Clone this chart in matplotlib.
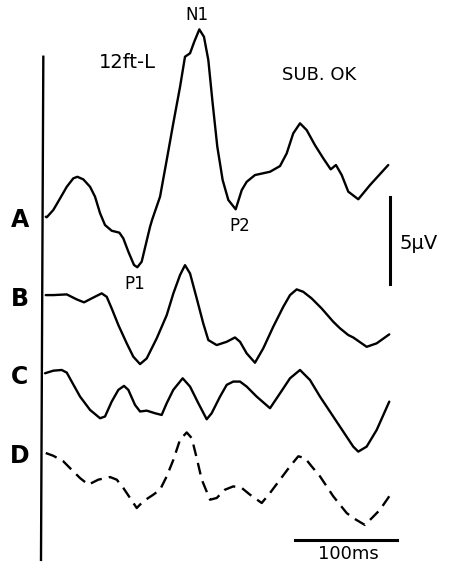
import numpy as np
import matplotlib
matplotlib.use("Agg")
import matplotlib.pyplot as plt

# latency (ms) and amplitude (uV, negative drawn upward) for each averaged response
t_a = [0.7, 1.7, 8.2, 14.9, 21.5, 28.0, 32.0, 37.9, 44.6, 49.5, 54.5, 59.4, 66.0, 73.6,
       77.5, 82.5, 88.1, 91.4, 95.7, 104.0, 106.2, 113.9, 120.5, 127.0, 133.7, 138.6, 143.6,
       147.8, 152.8, 157.4, 161.7, 166.0, 170.6, 175.9, 181.5, 188.8, 194.8, 199.7, 207.9,
       222.8, 232.7, 239.3, 245.8, 252.5, 259.1, 267.3, 275.5, 282.9, 288.1, 293.8, 300.3,
       310.2, 321.8, 339.9]
v_a = [0.0, 0.03, -0.39, -1.06, -1.73, -2.22, -2.31, -2.16, -1.73, -1.16, -0.2, 0.48, 0.81,
       0.92, 1.25, 2.02, 2.79, 2.92, 2.6, 0.58, 0.15, -1.16, -3.28, -5.4, -7.51, -9.25, -9.45,
       -10.12, -10.83, -10.4, -9.06, -6.55, -4.05, -2.12, -0.97, -0.43, -1.54, -2.02, -2.41,
       -2.6, -2.93, -3.66, -4.82, -5.4, -5.01, -4.14, -3.38, -2.74, -2.99, -2.41, -1.45,
       -1.01, -1.83, -2.99]

t_b = [0.7, 8.2, 21.5, 31.4, 38.6, 46.2, 56.1, 61.1, 66.0, 72.6, 80.9, 87.4, 94.1, 100.7,
       110.6, 120.5, 127.1, 133.7, 138.6, 143.6, 150.2, 156.7, 161.7, 170.0, 179.9, 188.1,
       193.1, 199.7, 207.9, 216.1, 226.0, 235.9, 242.6, 249.2, 255.7, 264.0, 273.9, 285.4,
       292.1, 300.3, 305.2, 318.5, 328.4, 340.9]
v_b = [0.0, 0.0, -0.04, 0.25, 0.42, 0.19, -0.1, 0.1, 0.77, 1.73, 2.79, 3.56, 3.99, 3.66,
       2.5, 1.16, -0.1, -1.16, -1.73, -1.25, 0.19, 1.64, 2.6, 2.89, 2.7, 2.45, 2.7, 3.37,
       3.91, 3.08, 1.83, 0.68, 0.0, -0.33, -0.19, 0.19, 0.77, 1.54, 1.92, 2.31, 2.45, 2.99,
       2.79, 2.27]

t_c = [0.0, 8.2, 16.5, 21.5, 26.4, 34.7, 44.6, 54.5, 59.4, 66.0, 72.6, 78.2, 82.5, 89.1,
       94.1, 100.7, 108.9, 115.5, 120.5, 127.0, 136.3, 143.6, 151.8, 160.1, 165.0, 173.3,
       179.9, 186.4, 193.1, 199.7, 209.6, 222.8, 232.7, 242.6, 252.5, 262.4, 272.3, 285.4,
       295.3, 305.2, 310.2, 318.5, 328.4, 340.9]
v_c = [0.0, -0.15, -0.19, -0.04, 0.48, 1.35, 2.12, 2.6, 2.5, 1.64, 0.96, 0.73, 0.96, 1.83,
       2.21, 2.16, 2.31, 2.41, 1.73, 0.96, 0.29, 0.77, 1.73, 2.66, 2.31, 1.35, 0.67, 0.48,
       0.48, 0.77, 1.35, 2.02, 1.16, 0.29, -0.19, 0.39, 1.35, 2.5, 3.37, 4.24, 4.53, 4.24,
       3.28, 1.64]

t_d = [0.7, 8.2, 18.1, 26.4, 34.7, 42.9, 52.8, 64.4, 71.0, 77.5, 84.2, 90.8, 97.3, 107.2,
       113.9, 120.5, 127.1, 133.7, 140.3, 145.3, 150.2, 155.2, 163.4, 170.0, 178.2, 186.4,
       194.8, 203.0, 214.6, 222.8, 232.7, 242.6, 250.8, 257.4, 264.0, 272.3, 285.4, 298.7,
       305.2, 316.8, 325.0, 331.7, 340.9]
v_d = [0.0, 0.16, 0.48, 0.97, 1.45, 1.83, 1.54, 1.39, 1.54, 2.02, 2.6, 3.18, 2.79, 2.41,
       2.12, 1.35, 0.39, -0.77, -1.19, -0.86, 0.29, 1.54, 2.7, 2.6, 2.12, 1.93, 2.02, 2.41,
       2.89, 2.31, 1.54, 0.77, 0.19, 0.29, 0.77, 1.35, 2.5, 3.47, 3.76, 4.16, 3.68, 3.28, 2.5]

trace_names = ["A", "B", "C", "D"]
trace_offsets = [0.0, 4.53, 9.05, 13.66]

fig = plt.figure(figsize=(4.54, 5.67), dpi=100)
ax = fig.add_axes([0, 0, 1, 1])
ax.set_xlim(-44.6, 405)
ax.set_ylim(20.25, -12.53)
ax.axis("off")

ink = "black"
traces = [(t_a, v_a, "-"), (t_b, v_b, "-"), (t_c, v_c, "-"), (t_d, v_d, (0, (5, 3)))]
for (t, v, ls), name, off in zip(traces, trace_names, trace_offsets):
    ax.plot(t, np.array(v) + off, color=ink, lw=1.7, ls=ls,
            solid_joinstyle="round", solid_capstyle="round")
    ax.text(-24.8, off + 0.2, name, ha="center", va="center", fontsize=17,
            fontweight="bold", family="DejaVu Sans", color=ink)

# stimulus onset line
ax.plot([-1.7, -4.0], [-9.25, 19.84], color=ink, lw=1.7)

# calibration bars
ax.plot([341.6, 341.6], [-1.14, 3.86], color=ink, lw=2.2)
ax.text(351, 1.52, "5µV", ha="left", va="center", fontsize=14, color=ink)
ax.plot([247.5, 348.5], [18.69, 18.69], color=ink, lw=2.2)
ax.text(300, 19.5, "100ms", ha="center", va="center", fontsize=13, color=ink)

# peak labels and headings
ax.text(150.5, -11.65, "N1", ha="center", va="center", fontsize=12, color=ink)
ax.text(88.5, 3.9, "P1", ha="center", va="center", fontsize=12, color=ink)
ax.text(193, 0.54, "P2", ha="center", va="center", fontsize=12, color=ink)
ax.text(82, -8.9, "12ft-L", ha="center", va="center", fontsize=14, color=ink)
ax.text(271, -8.2, "SUB. OK", ha="center", va="center", fontsize=13, color=ink)

fig.savefig("out.png", dpi=100, facecolor="white")
